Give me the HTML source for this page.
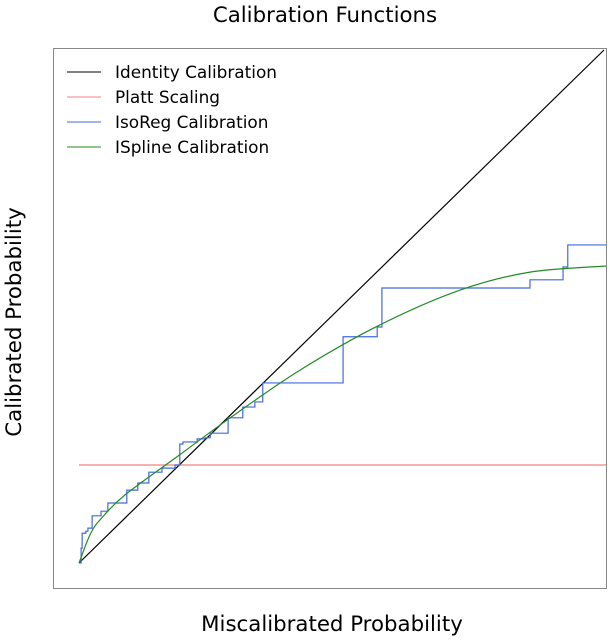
<!DOCTYPE html>
<html><head><meta charset="utf-8"><style>
body{margin:0;background:#fff;}
svg{display:block;font-family:"DejaVu Sans","Liberation Sans",sans-serif;}
</style></head><body>
<svg id="chart" width="610" height="640">
<text x="325" y="22" font-size="21.3" text-anchor="middle">Calibration Functions</text>
<text x="332" y="631" font-size="21.3" text-anchor="middle">Miscalibrated Probability</text>
<text transform="translate(21,322) rotate(-90)" font-size="21.3" text-anchor="middle">Calibrated Probability</text>
<rect x="53.5" y="48.5" width="553" height="540" fill="none" stroke="#888"/>
<g id="marks"></g>
<g>
<line x1="67" y1="72" x2="101" y2="72" stroke="#000"/>
<text x="115" y="78" font-size="16.9">Identity Calibration</text>
<line x1="67" y1="97" x2="101" y2="97" stroke="#f08080"/>
<text x="115" y="103" font-size="16.9">Platt Scaling</text>
<line x1="67" y1="122" x2="101" y2="122" stroke="#4169e1"/>
<text x="115" y="128" font-size="16.9">IsoReg Calibration</text>
<line x1="67" y1="147" x2="101" y2="147" stroke="#228b22"/>
<text x="115" y="153" font-size="16.9">ISpline Calibration</text>
</g>
</svg>
<script>
const identityX = [0, 1];
const plattY = 0.191;
const isoX = [0,0.004,0.006,0.013,0.017,0.025,0.042,0.055,0.091,0.112,0.133,0.158,0.183,0.192,0.198,0.225,0.24,0.25,0.284,0.312,0.335,0.35,0.503,0.568,0.577,0.859,0.922,0.931,1.004];
const isoY = [0,0.029,0.058,0.062,0.068,0.092,0.101,0.117,0.142,0.156,0.177,0.185,0.191,0.232,0.236,0.242,0.244,0.253,0.283,0.304,0.314,0.351,0.441,0.46,0.536,0.552,0.577,0.62,0.62];
const splX = [0,0.021,0.04,0.088,0.192,0.288,0.421,0.573,0.726,0.859,1.004];
const splY = [0,0.055,0.084,0.133,0.211,0.283,0.376,0.464,0.532,0.567,0.579];
const sx = v => 79 + v*525;
const sy = v => 563 - v*513;
const g = document.getElementById('marks');
const NS = 'http://www.w3.org/2000/svg';
function mk(tag, attrs){const e=document.createElementNS(NS,tag);for(const k in attrs)e.setAttribute(k,attrs[k]);g.appendChild(e);return e;}
const pl = mk('line',{x1:sx(0),y1:sy(plattY),x2:sx(1.004),y2:sy(plattY),stroke:'#f08080','stroke-width':1.2});


const id = mk('line',{x1:sx(identityX[0]),y1:sy(identityX[0]),x2:sx(identityX[1]),y2:sy(identityX[1]),stroke:'#000','stroke-width':1.2});


let d = 'M'+sx(isoX[0])+','+sy(isoY[0]);
for(let i=1;i<isoX.length;i++){d+=' H'+sx(isoX[i])+' V'+sy(isoY[i]);}
const iso = mk('path',{d:d,fill:'none',stroke:'#4169e1','stroke-width':1.2});


let p = splX.map((x,i)=>[sx(x),sy(splY[i])]);
let s = 'M'+p[0][0]+','+p[0][1];
for(let i=0;i<p.length-1;i++){
 const p0=p[Math.max(0,i-1)],p1=p[i],p2=p[i+1],p3=p[Math.min(p.length-1,i+2)];
 const c1=[p1[0]+(p2[0]-p0[0])/6,p1[1]+(p2[1]-p0[1])/6];
 const c2=[p2[0]-(p3[0]-p1[0])/6,p2[1]-(p3[1]-p1[1])/6];
 s+=' C'+c1[0]+','+c1[1]+' '+c2[0]+','+c2[1]+' '+p2[0]+','+p2[1];
}
const sp = mk('path',{d:s,fill:'none',stroke:'#228b22','stroke-width':1.2});


</script>
</body></html>
